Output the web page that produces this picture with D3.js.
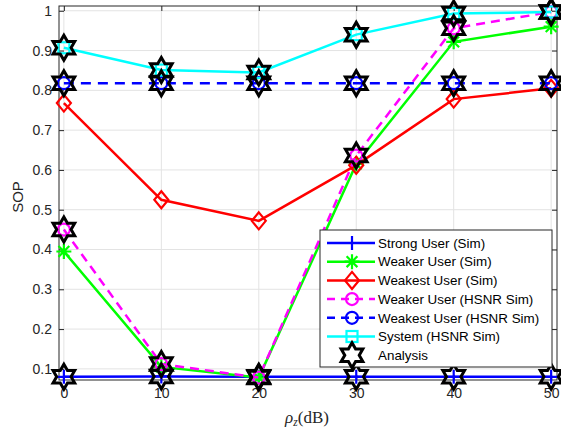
<!DOCTYPE html>
<html><head><meta charset="utf-8">
<script src="https://cdn.jsdelivr.net/npm/d3@7"></script>
<style>body{margin:0;background:#fff} svg{display:block}</style>
</head><body><svg id="c" width="561" height="431"></svg>
<script>
// ---- data ----
const xValues = [0, 10, 20, 30, 40, 50];
const strongSim   = [0.080, 0.081, 0.080, 0.080, 0.080, 0.080];
const weakerSim   = [0.395, 0.105, 0.078, 0.615, 0.922, 0.960];
const weakestSim  = [0.768, 0.525, 0.472, 0.612, 0.778, 0.805];
const weakerHSNR  = [0.450, 0.112, 0.078, 0.636, 0.956, 0.997];
const weakestHSNR = [0.818, 0.818, 0.818, 0.818, 0.818, 0.818];
const systemHSNR  = [0.907, 0.851, 0.845, 0.940, 0.993, 0.997];
const analysisStrong  = [0.080, 0.081, 0.080, 0.080, 0.080, 0.080];
const analysisWeaker  = [0.450, 0.112, 0.078, 0.636, 0.956, 0.997];
const analysisWeakest = [0.818, 0.818, 0.818, 0.818, 0.818, 0.818];
const analysisSystem  = [0.907, 0.851, 0.845, 0.940, 0.993, 0.997];
const xTicks = [0, 10, 20, 30, 40, 50];
const yTicks = [0.1, 0.2, 0.3, 0.4, 0.5, 0.6, 0.7, 0.8, 0.9, 1];
const legendLabels = ["Strong User (Sim)", "Weaker User (Sim)", "Weakest User (Sim)",
  "Weaker User (HSNR Sim)", "Weakest User (HSNR Sim)", "System (HSNR Sim)", "Analysis"];

// ---- setup ----
const svg = d3.select("#c");
const L = 59, R = 557, T = 6, B = 380;
const x = d3.scaleLinear().domain([-0.5, 50.6]).range([L, R]);
const y = d3.scaleLinear().domain([0.072, 1.012]).range([B, T]);
const axisColor = "#262626";

// grid
const g = svg.append("g");
g.selectAll(".gx").data(xTicks).enter().append("line")
  .attr("x1", d => x(d)).attr("x2", d => x(d)).attr("y1", T).attr("y2", B)
  .attr("stroke", "#e3e3e3").attr("stroke-width", 1);
g.selectAll(".gy").data(yTicks).enter().append("line")
  .attr("y1", d => y(d)).attr("y2", d => y(d)).attr("x1", L).attr("x2", R)
  .attr("stroke", "#e3e3e3").attr("stroke-width", 1);

// axes with ticks
const fontCSS = "'Liberation Sans', Arial, sans-serif";
const xAxisB = svg.append("g").attr("transform", `translate(0,${B})`)
  .call(d3.axisBottom(x).tickValues(xTicks).tickSize(-5).tickPadding(8).tickFormat(d3.format("d")));
const xAxisT = svg.append("g").attr("transform", `translate(0,${T})`)
  .call(d3.axisTop(x).tickValues(xTicks).tickSize(-5).tickFormat(""));
const yAxisL = svg.append("g").attr("transform", `translate(${L},0)`)
  .call(d3.axisLeft(y).tickValues(yTicks).tickSize(-5).tickPadding(7).tickFormat(d => d === 1 ? "1" : d3.format(".1f")(d)));
const yAxisR = svg.append("g").attr("transform", `translate(${R},0)`)
  .call(d3.axisRight(y).tickValues(yTicks).tickSize(-5).tickFormat(""));
[xAxisB, xAxisT, yAxisL, yAxisR].forEach(a => {
  a.select(".domain").remove();
  a.selectAll("line").attr("stroke", axisColor).attr("stroke-width", 1);
  a.selectAll("text").attr("fill", axisColor).style("font-family", fontCSS).style("font-size", "14px");
});
svg.append("rect").attr("x", L).attr("y", T).attr("width", R - L).attr("height", B - T)
  .attr("fill", "none").attr("stroke", axisColor).attr("stroke-width", 1);

// marker shapes
function hexagramPath(Ro) {
  const ri = Ro / Math.sqrt(3);
  const pts = [];
  for (let k = 0; k < 12; k++) {
    const a = -Math.PI / 2 + k * Math.PI / 6;
    const r = k % 2 === 0 ? Ro : ri;
    pts.push([r * Math.cos(a), r * Math.sin(a)]);
  }
  return "M" + pts.map(p => p.join(",")).join("L") + "Z";
}
function drawMarker(sel, type, color) {
  if (type === "plus") {
    sel.append("path").attr("d", "M-7,0H7M0,-7V7").attr("stroke", color).attr("stroke-width", 2.2).attr("fill", "none");
  } else if (type === "star") {
    const s = 7.5, d = s * 0.72;
    sel.append("path").attr("d", `M-${s},0H${s}M0,-${s}V${s}M-${d},-${d}L${d},${d}M-${d},${d}L${d},-${d}`)
      .attr("stroke", color).attr("stroke-width", 2.2).attr("fill", "none");
  } else if (type === "diamond") {
    sel.append("path").attr("d", "M0,-8.5L7,0L0,8.5L-7,0Z").attr("stroke", color).attr("stroke-width", 2.2).attr("fill", "none");
  } else if (type === "circle") {
    sel.append("circle").attr("r", 6).attr("stroke", color).attr("stroke-width", 2.2).attr("fill", "none");
  } else if (type === "square") {
    sel.append("rect").attr("x", -5.5).attr("y", -5.5).attr("width", 11).attr("height", 11)
      .attr("stroke", color).attr("stroke-width", 2.2).attr("fill", "none");
  } else if (type === "hexagram") {
    sel.append("path").attr("d", hexagramPath(12.5)).attr("stroke", "#000").attr("stroke-width", 3)
      .attr("stroke-linejoin", "miter").attr("fill", "none");
  }
}

const series = [
  { vals: strongSim, color: "#0000ff", dash: null, marker: "plus" },
  { vals: weakerSim, color: "#00ff00", dash: null, marker: "star" },
  { vals: weakestSim, color: "#ff0000", dash: null, marker: "diamond" },
  { vals: weakerHSNR, color: "#ff00ff", dash: "9,6", marker: "circle" },
  { vals: weakestHSNR, color: "#0000ff", dash: "10,7", marker: "circle" },
  { vals: systemHSNR, color: "#00ffff", dash: null, marker: "square" }
];
const line = d3.line().x((d, i) => x(xValues[i])).y(d => y(d));
const plot = svg.append("g");
series.forEach(s => {
  plot.append("path").datum(s.vals).attr("d", line).attr("fill", "none")
    .attr("stroke", s.color).attr("stroke-width", 2.5)
    .attr("stroke-dasharray", s.dash);
  s.vals.forEach((v, i) => {
    const m = plot.append("g").attr("transform", `translate(${x(xValues[i])},${y(v)})`);
    drawMarker(m, s.marker, s.color);
  });
});
[analysisStrong, analysisWeaker, analysisWeakest, analysisSystem].forEach(arr => {
  arr.forEach((v, i) => {
    const m = plot.append("g").attr("transform", `translate(${x(xValues[i])},${y(v)})`);
    drawMarker(m, "hexagram", "#000");
  });
});

// legend
const lg = svg.append("g");
const lx = 320, ly = 230, lw = 232, lh = 137;
lg.append("rect").attr("x", lx).attr("y", ly).attr("width", lw).attr("height", lh)
  .attr("fill", "#fff").attr("stroke", axisColor).attr("stroke-width", 1);
const legendItems = series.map(s => s).concat([{ color: "#000", dash: null, marker: "hexagram", noLine: true }]);
legendItems.forEach((s, i) => {
  const cy = 243 + i * 18.7;
  if (!s.noLine) {
    lg.append("line").attr("x1", 327).attr("x2", 375).attr("y1", cy).attr("y2", cy)
      .attr("stroke", s.color).attr("stroke-width", 2.5).attr("stroke-dasharray", s.dash ? "8,6" : null);
  }
  const m = lg.append("g").attr("transform", `translate(352,${cy})`);
  drawMarker(m, s.marker, s.color);
  lg.append("text").attr("x", 378).attr("y", cy + 4.7).text(legendLabels[i])
    .attr("fill", "#000").style("font-family", fontCSS).style("font-size", "13.4px");
});

// axis labels
svg.append("text").attr("transform", "translate(23,197) rotate(-90)").attr("text-anchor", "middle")
  .text("SOP").attr("fill", axisColor).style("font-family", fontCSS).style("font-size", "15px");
const xl = svg.append("text").attr("x", 307).attr("y", 423).attr("text-anchor", "middle")
  .attr("fill", axisColor).style("font-family", "'Liberation Serif','DejaVu Serif',serif").style("font-size", "17px");
xl.append("tspan").text("ρ").style("font-style", "italic");
xl.append("tspan").text("z").style("font-style", "italic").style("font-size", "11.5px").attr("dy", 3);
xl.append("tspan").text("(dB)").attr("dy", -3);
</script></body></html>
